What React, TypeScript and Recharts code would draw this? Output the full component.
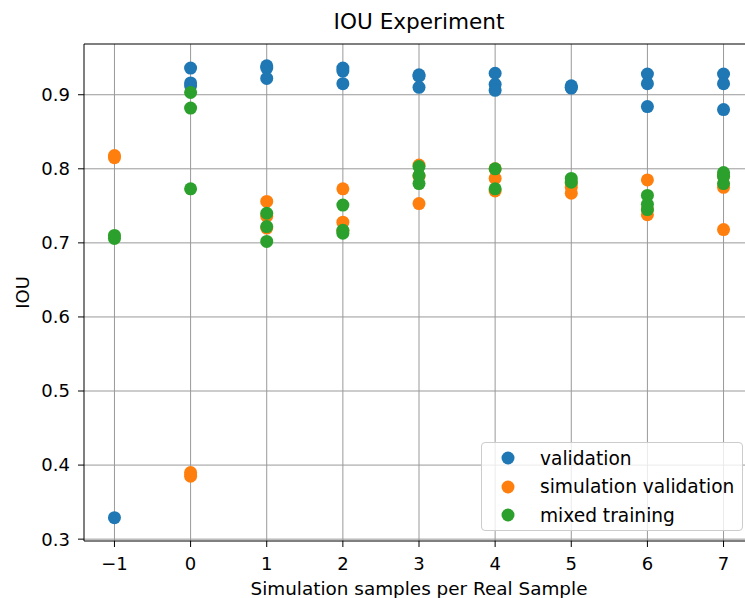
import React from 'react'
import { ScatterChart, Scatter, XAxis, YAxis, ReferenceLine, Legend } from 'recharts'

const xCategories = [-1, 0, 1, 2, 3, 4, 5, 6, 7]
const xTicks = [-1, 0, 1, 2, 3, 4, 5, 6, 7]
const yTicks = [0.3, 0.4, 0.5, 0.6, 0.7, 0.8, 0.9]

// one list of runs per x value
const validation = [
  [0.329],
  [0.936, 0.916, 0.912],
  [0.939, 0.936, 0.922],
  [0.936, 0.932, 0.915],
  [0.927, 0.925, 0.910],
  [0.929, 0.914, 0.906],
  [0.912, 0.910, 0.909],
  [0.928, 0.915, 0.884],
  [0.928, 0.915, 0.880],
]
const simulationValidation = [
  [0.818, 0.815],
  [0.390, 0.385],
  [0.756, 0.736, 0.720],
  [0.773, 0.728, 0.716],
  [0.805, 0.790, 0.753],
  [0.800, 0.787, 0.770],
  [0.780, 0.775, 0.767],
  [0.785, 0.745, 0.738],
  [0.790, 0.775, 0.718],
]
const mixedTraining = [
  [0.710, 0.706],
  [0.903, 0.882, 0.773],
  [0.740, 0.722, 0.702],
  [0.751, 0.717, 0.713],
  [0.803, 0.791, 0.780],
  [0.800, 0.773],
  [0.787, 0.782],
  [0.764, 0.752, 0.745],
  [0.795, 0.790, 0.780],
]

const seriesNames = ['validation', 'simulation validation', 'mixed training']
const seriesColors = ['#1f77b4', '#ff7f0e', '#2ca02c']

const toPoints = (runs: number[][]) =>
  runs.flatMap((vals, i) => vals.map((v) => ({ x: xCategories[i], y: v })))

const allSeries = [validation, simulationValidation, mixedTraining].map(toPoints)

const xDomain = [-1.4, 7.4]
const yDomain = [0.2975, 0.9685]

const font = "'DejaVu Sans', sans-serif"
const minus = (v: number) => String(v).replace('-', '\u2212')

const dot = (color: string) => (p: any) => (
  <circle cx={p.cx} cy={p.cy} r={6.5} fill={color} />
)

const LegendBox = () => (
  <div
    style={{
      width: 262,
      height: 89,
      boxSizing: 'border-box',
      border: '1px solid #cccccc',
      borderRadius: 4,
      background: 'rgba(255,255,255,0.8)',
      fontFamily: font,
      fontSize: 18.6,
      color: '#000',
      paddingTop: 1,
    }}
  >
    {seriesNames.map((name, i) => (
      <div key={name} style={{ display: 'flex', alignItems: 'center', height: 28.5 }}>
        <svg width={58} height={20}>
          <circle cx={26} cy={10} r={6.5} fill={seriesColors[i]} />
        </svg>
        <span>{name}</span>
      </div>
    ))}
  </div>
)

export default function App() {
  return (
    <div style={{ position: 'fixed', left: 0, top: 0, width: 745, height: 598, overflow: 'hidden', background: '#fff' }}>
      <div
        style={{
          position: 'absolute',
          left: 0,
          width: 838,
          top: 9,
          textAlign: 'center',
          fontFamily: font,
          fontSize: 21.6,
          color: '#000',
          lineHeight: '26px',
        }}
      >
        IOU Experiment
      </div>
      <ScatterChart
        width={770}
        height={598}
        margin={{ top: 44, right: 16, bottom: 0, left: 0 }}
        style={{ fontFamily: font }}
      >
        <XAxis
          type="number"
          dataKey="x"
          domain={xDomain}
          ticks={xTicks}
          allowDataOverflow
          height={57}
          tickSize={6}
          tickMargin={10}
          tickFormatter={minus}
          stroke="#000"
          tick={{ fill: '#000', fontSize: 18 }}
          label={{ value: 'Simulation samples per Real Sample', position: 'insideBottom', offset: 3, fill: '#000', fontSize: 18.4 }}
        />
        <YAxis
          type="number"
          dataKey="y"
          domain={yDomain}
          ticks={yTicks}
          allowDataOverflow
          width={84}
          tickSize={6}
          tickMargin={8}
          tickFormatter={(v: number) => v.toFixed(1)}
          stroke="#000"
          tick={{ fill: '#000', fontSize: 18 }}
          label={{
            content: ({ viewBox }: any) => (
              <text
                x={viewBox.x + 22}
                y={viewBox.y + viewBox.height / 2}
                transform={`rotate(-90 ${viewBox.x + 22} ${viewBox.y + viewBox.height / 2})`}
                textAnchor="middle"
                dominantBaseline="central"
                fill="#000"
                fontSize={18}
                fontFamily={font}
              >
                IOU
              </text>
            ),
          }}
        />
        {allSeries.map((pts, i) => (
          <Scatter
            key={seriesNames[i]}
            name={seriesNames[i]}
            data={pts}
            fill={seriesColors[i]}
            shape={dot(seriesColors[i])}
            isAnimationActive={false}
          />
        ))}
        {xTicks.map((v) => (
          <ReferenceLine key={'x' + v} x={v} stroke="#999999" strokeWidth={1} />
        ))}
        {yTicks.map((v) => (
          <ReferenceLine key={'y' + v} y={v} stroke="#999999" strokeWidth={1} />
        ))}
        <ReferenceLine y={yDomain[1]} stroke="#000" strokeWidth={1.2} />
        <ReferenceLine x={xDomain[1]} stroke="#000" strokeWidth={1.2} />
        <Legend
          layout="vertical"
          align="center"
          verticalAlign="middle"
          content={() => <LegendBox />}
          wrapperStyle={{ position: 'absolute', left: 481, top: 442, width: 262, height: 89 }}
        />
      </ScatterChart>
    </div>
  )
}
